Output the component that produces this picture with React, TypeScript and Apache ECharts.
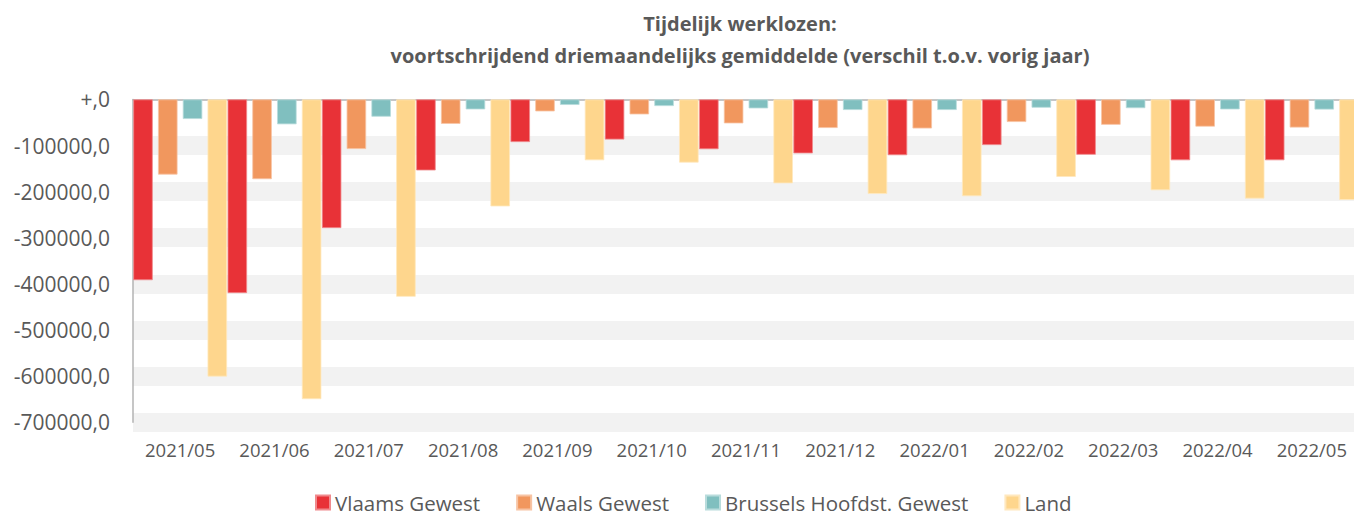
import React, { useEffect, useRef } from "react";
import * as echarts from "echarts";

const categories = [
  "2021/05", "2021/06", "2021/07", "2021/08", "2021/09", "2021/10", "2021/11",
  "2021/12", "2022/01", "2022/02", "2022/03", "2022/04", "2022/05",
];
const vlaams = [-392000, -420000, -279000, -154000, -92500, -87000, -108000, -117000, -121000, -99000, -120000, -132000, -132000];
const waals = [-163000, -173000, -107600, -53000, -26000, -32500, -52000, -62000, -63000, -49000, -55000, -59000, -61000];
const brussel = [-42500, -54000, -37500, -21700, -12000, -14400, -19500, -23000, -23000, -18000, -19000, -21700, -22000];
const land = [-601000, -650000, -428000, -232000, -132000, -137000, -182000, -205000, -210000, -168000, -197000, -215000, -218000];
const seriesNames = ["Vlaams Gewest", "Waals Gewest", "Brussels Hoofdst. Gewest", "Land"];
const titleLines = ["Tijdelijk werklozen:", "voortschrijdend driemaandelijks gemiddelde (verschil t.o.v. vorig jaar)"];

const colors = ["#E83237", "#F1975E", "#80BFBF", "#FED68D"];
const borders = ["#F08A8D", "#F7C4A4", "#B9DCDC", "#FFE8BE"];
const FONT = "'Open Sans', 'Noto Sans', sans-serif";
const TXT = "#595959";

export default function App() {
  const ref = useRef<HTMLDivElement>(null);
  useEffect(() => {
    if (!ref.current) return;
    const chart = echarts.init(ref.current, undefined, { renderer: "svg" });
    const data = [vlaams, waals, brussel, land];
    chart.setOption({
      animation: false,
      backgroundColor: "#ffffff",
      textStyle: { fontFamily: FONT },
      graphic: [
        {
          type: "text",
          x: 740,
          y: 23,
          style: { text: titleLines[0], fontFamily: FONT, fontWeight: "bold", fontSize: 20, fill: TXT, textAlign: "center", textVerticalAlign: "middle" },
        },
        {
          type: "text",
          x: 740,
          y: 55,
          style: { text: titleLines[1], fontFamily: FONT, fontWeight: "bold", fontSize: 20, fill: TXT, textAlign: "center", textVerticalAlign: "middle" },
        },
      ],
      legend: {
        left: 315,
        top: 492,
        padding: 0,
        icon: "rect",
        itemWidth: 14,
        itemHeight: 14,
        itemGap: 36,
        textStyle: { fontFamily: FONT, fontSize: 20.5, color: TXT, lineHeight: 18 },
        data: seriesNames,
      },
      grid: { left: 133, top: 99.4, right: -5, bottom: 92.8, containLabel: false, outerBoundsMode: "none" },
      xAxis: [
        {
          type: "category",
          data: categories,
          position: "bottom",
          axisLine: { show: false, onZero: false },
          axisTick: { show: false },
          axisLabel: { fontFamily: FONT, fontSize: 18.5, color: TXT, margin: 18 },
          splitLine: { show: false },
        },
        {
          type: "category",
          data: categories,
          position: "top",
          axisLine: { show: true, onZero: false, lineStyle: { color: "#B3B3B3", width: 1.5 } },
          axisTick: { show: false },
          axisLabel: { show: false },
          splitLine: { show: false },
        },
      ],
      yAxis: {
        type: "value",
        min: -700000,
        max: 0,
        interval: 100000,
        axisLine: { show: true, lineStyle: { color: "#B3B3B3", width: 1.5 } },
        axisTick: { show: false },
        axisLabel: {
          fontFamily: FONT,
          fontSize: 21,
          color: TXT,
          margin: 23,
          formatter: (v: number) => (v === 0 ? "+,0" : `${v},0`),
        },
        splitLine: { show: true, showMaxLine: false, showMinLine: true, lineStyle: { color: "#F2F2F2", width: 19 } },
      },
      series: seriesNames.map((name, i) => ({
        name,
        type: "bar",
        xAxisIndex: 0,
        data: data[i],
        barWidth: 19.5,
        barGap: "27%",
        itemStyle: { color: colors[i], borderColor: borders[i], borderWidth: 0.8 },
      })),
    });
    return () => chart.dispose();
  }, []);
  return <div ref={ref} style={{ position: "fixed", left: 0, top: 0, width: 1354, height: 515 }} />;
}
